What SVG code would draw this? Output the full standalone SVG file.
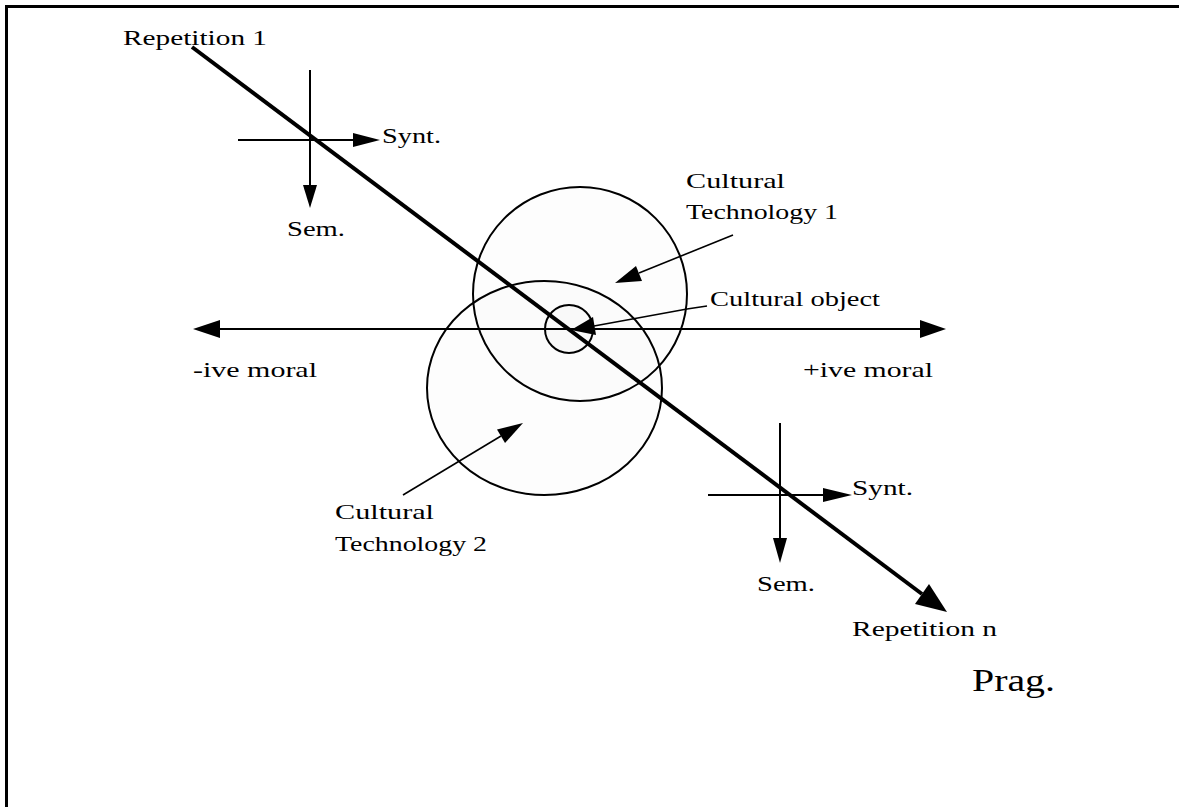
<svg xmlns="http://www.w3.org/2000/svg" width="1179" height="807" viewBox="0 0 1179 807">
<style>
  .t { font-family: "Liberation Serif", "DejaVu Serif", serif; font-size: 22px; fill: #000; }
  .big { font-size: 31px; }
  .ln { stroke: #000; stroke-width: 2; fill: none; }
  .thin { stroke: #000; stroke-width: 1.6; fill: none; }
  .thick { stroke: #000; stroke-width: 4; fill: none; }
  .ring { stroke: #000; stroke-width: 2; fill: #000; fill-opacity: 0.007; }
  .head { fill: #000; stroke: none; }
</style>
<rect x="0" y="0" width="1179" height="807" fill="#fff"/>
<path id="frame" d="M6.5,807 V6.5 H1179" stroke="#000" stroke-width="3" fill="none"/>

<g id="circles">
  <circle id="tech1" class="ring" cx="580" cy="294" r="107"/>
  <ellipse id="tech2" class="ring" cx="544.5" cy="388" rx="117.5" ry="107"/>
  <circle id="object" class="ring" cx="569" cy="329" r="24"/>
</g>

<g id="connectors">
  <!-- moral axis -->
  <line class="ln" x1="218" y1="329" x2="922" y2="329"/>
  <polygon class="head" points="193,329 220,320 220,338"/>
  <polygon class="head" points="946,329 920,320 920,338"/>
  <!-- cross 1 -->
  <line class="ln" x1="310" y1="70" x2="310" y2="187"/>
  <polygon class="head" points="310,208 303,185 317,185"/>
  <line class="ln" x1="238" y1="140" x2="355" y2="140"/>
  <polygon class="head" points="380,140 353,133 353,147"/>
  <!-- cross 2 -->
  <line class="ln" x1="780" y1="423" x2="780" y2="540"/>
  <polygon class="head" points="780,563 773,538 787,538"/>
  <line class="ln" x1="708" y1="495" x2="825" y2="495"/>
  <polygon class="head" points="852,495 823,488 823,502"/>
  <!-- main repetition axis -->
  <line class="thick" x1="192" y1="47" x2="922" y2="594"/>
  <polygon class="head" points="947,612 915,604 929,584"/>
  <!-- Tech 1 pointer -->
  <line class="thin" x1="733" y1="235" x2="639" y2="273"/>
  <polygon class="head" points="615,283 636,266 642,281"/>
  <!-- Tech 2 pointer -->
  <line class="thin" x1="403" y1="495" x2="501" y2="436"/>
  <polygon class="head" points="523,423 505,443 497,429.5"/>
  <!-- Cultural object pointer -->
  <polyline class="thin" points="707,306 687,309 594,326"/>
  <polygon class="head" points="571,330 593,317 596,335"/>
</g>

<g id="labels">
  <text class="t" x="123" y="45" textLength="144" lengthAdjust="spacingAndGlyphs">Repetition 1</text>
  <text class="t" x="382" y="143" textLength="59" lengthAdjust="spacingAndGlyphs">Synt.</text>
  <text class="t" x="287" y="236" textLength="58" lengthAdjust="spacingAndGlyphs">Sem.</text>
  <text class="t" x="686" y="188" textLength="99" lengthAdjust="spacingAndGlyphs">Cultural</text>
  <text class="t" x="686" y="219" textLength="152" lengthAdjust="spacingAndGlyphs">Technology 1</text>
  <text class="t" x="710" y="306" textLength="170" lengthAdjust="spacingAndGlyphs">Cultural object</text>
  <text class="t" x="193" y="377" textLength="124" lengthAdjust="spacingAndGlyphs">-ive moral</text>
  <text class="t" x="803" y="377" textLength="130" lengthAdjust="spacingAndGlyphs">+ive moral</text>
  <text class="t" x="335" y="519" textLength="99" lengthAdjust="spacingAndGlyphs">Cultural</text>
  <text class="t" x="335" y="551" textLength="152" lengthAdjust="spacingAndGlyphs">Technology 2</text>
  <text class="t" x="852" y="495" textLength="61" lengthAdjust="spacingAndGlyphs">Synt.</text>
  <text class="t" x="757" y="591" textLength="58" lengthAdjust="spacingAndGlyphs">Sem.</text>
  <text class="t" x="852" y="636" textLength="145" lengthAdjust="spacingAndGlyphs">Repetition n</text>
  <text class="t big" x="972" y="691" textLength="83" lengthAdjust="spacingAndGlyphs">Prag.</text>
</g>
</svg>
